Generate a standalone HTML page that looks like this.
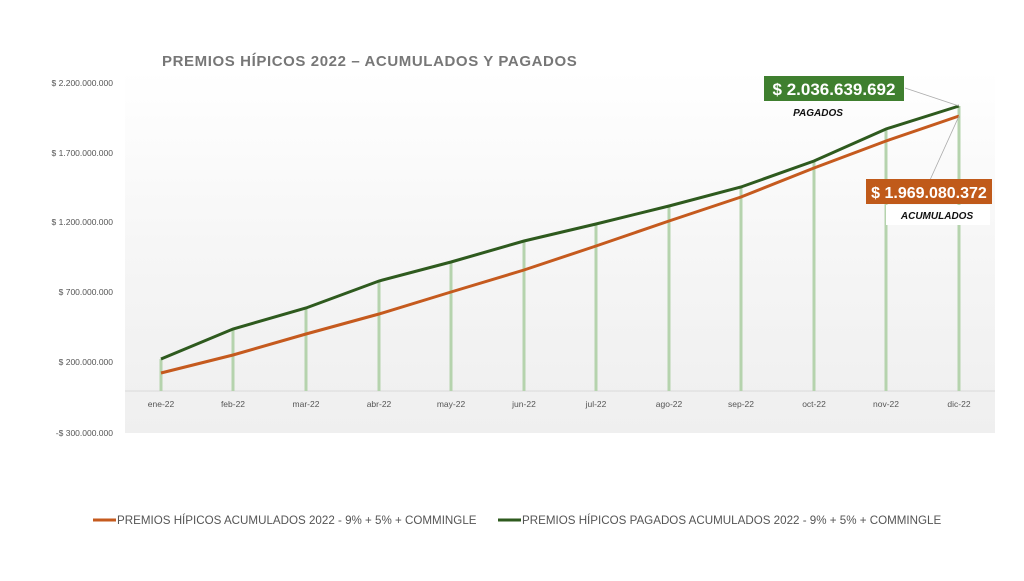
<!DOCTYPE html>
<html><head><meta charset="utf-8"><style>
body{margin:0;background:#fff;}
svg text{font-family:"Liberation Sans",sans-serif;}
</style></head><body>
<svg width="1024" height="576" xmlns="http://www.w3.org/2000/svg">
<defs>
<linearGradient id="bg" x1="0" y1="0" x2="0" y2="1">
<stop offset="0" stop-color="#ffffff"/>
<stop offset="0.6" stop-color="#f4f4f4"/>
<stop offset="1" stop-color="#efefef"/>
</linearGradient>
</defs>
<rect x="125" y="70" width="870" height="363" fill="url(#bg)"/>
<text x="162" y="66" font-size="15" font-weight="bold" fill="#777" letter-spacing="0.6">PREMIOS  HÍPICOS 2022 – ACUMULADOS  Y PAGADOS</text>
<g font-size="8.5" fill="#555" text-anchor="end">
<text x="113" y="86">$ 2.200.000.000</text>
<text x="113" y="156">$ 1.700.000.000</text>
<text x="113" y="225">$ 1.200.000.000</text>
<text x="113" y="295">$ 700.000.000</text>
<text x="113" y="365">$ 200.000.000</text>
<text x="113" y="436">-$ 300.000.000</text>
</g>
<line x1="125" y1="391" x2="995" y2="391" stroke="#d9d9d9" stroke-width="1"/>
<g stroke="#b5d3ad" stroke-width="3">
<line x1="161" y1="359" x2="161" y2="391"/><line x1="233" y1="329" x2="233" y2="391"/>
<line x1="306" y1="308" x2="306" y2="391"/><line x1="379" y1="281" x2="379" y2="391"/>
<line x1="451" y1="262" x2="451" y2="391"/><line x1="524" y1="241" x2="524" y2="391"/>
<line x1="596" y1="224" x2="596" y2="391"/><line x1="669" y1="206" x2="669" y2="391"/>
<line x1="741" y1="187" x2="741" y2="391"/><line x1="814" y1="161" x2="814" y2="391"/>
<line x1="886" y1="129" x2="886" y2="391"/><line x1="959" y1="106" x2="959" y2="391"/>
</g>
<g font-size="8.5" fill="#555" text-anchor="middle">
<text x="161" y="407">ene-22</text><text x="233" y="407">feb-22</text><text x="306" y="407">mar-22</text>
<text x="379" y="407">abr-22</text><text x="451" y="407">may-22</text><text x="524" y="407">jun-22</text>
<text x="596" y="407">jul-22</text><text x="669" y="407">ago-22</text><text x="741" y="407">sep-22</text>
<text x="814" y="407">oct-22</text><text x="886" y="407">nov-22</text><text x="959" y="407">dic-22</text>
</g>
<polyline fill="none" stroke="#c55a1e" stroke-width="3" points="161,373 233,355 306,334 379,314 451,292 524,270 596,246 669,221 741,197 814,168 886,141 959,116"/>
<polyline fill="none" stroke="#2e5a1e" stroke-width="3" points="161,359 233,329 306,308 379,281 451,262 524,241 596,224 669,206 741,187 814,161 886,129 959,106"/>
<line x1="905" y1="88" x2="959" y2="106" stroke="#aaa" stroke-width="0.8"/>
<line x1="930" y1="180" x2="959" y2="116" stroke="#aaa" stroke-width="0.8"/>
<rect x="764" y="76" width="140" height="25" fill="#3f7f2f"/>
<text x="834" y="95" font-size="17" font-weight="bold" fill="#fff" text-anchor="middle">$ 2.036.639.692</text>
<text x="818" y="116" font-size="10" font-weight="bold" font-style="italic" fill="#111" text-anchor="middle">PAGADOS</text>
<rect x="866" y="179" width="126" height="25" fill="#c05a1a"/>
<text x="929" y="198" font-size="16" font-weight="bold" fill="#fff" text-anchor="middle">$ 1.969.080.372</text>
<rect x="886" y="205" width="104" height="20" fill="#fff"/>
<text x="937" y="219" font-size="10" font-weight="bold" font-style="italic" fill="#111" text-anchor="middle">ACUMULADOS</text>
<line x1="93" y1="520" x2="116" y2="520" stroke="#c55a1e" stroke-width="3"/>
<text x="117" y="524" font-size="11.6" fill="#555">PREMIOS HÍPICOS ACUMULADOS 2022 - 9% + 5% + COMMINGLE</text>
<line x1="498" y1="520" x2="521" y2="520" stroke="#2e5a1e" stroke-width="3"/>
<text x="522" y="524" font-size="11.6" fill="#555">PREMIOS HÍPICOS PAGADOS ACUMULADOS 2022 - 9% + 5% + COMMINGLE</text>
</svg>
</body></html>
